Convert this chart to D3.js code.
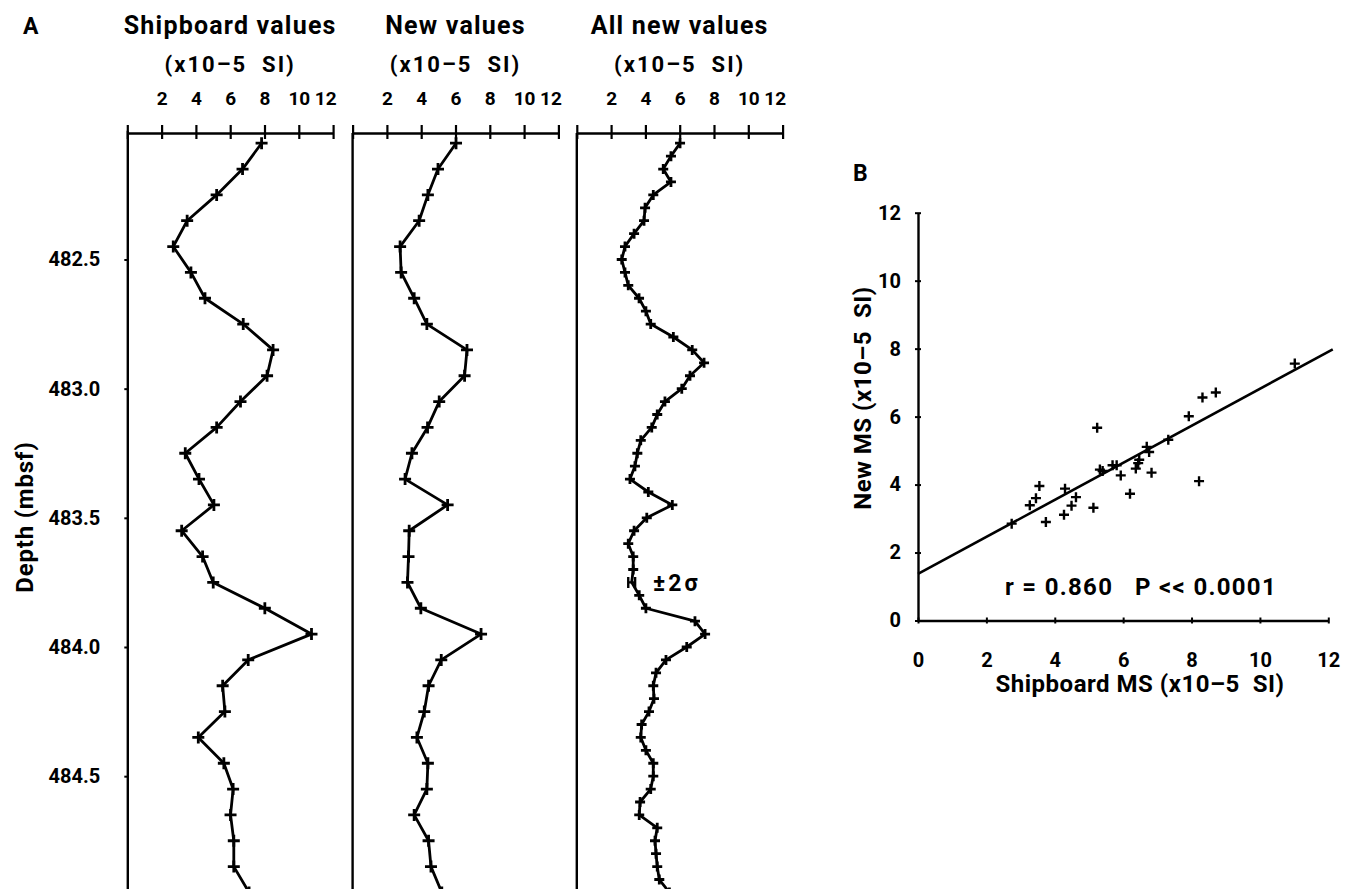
<!DOCTYPE html>
<html>
<head>
<meta charset="utf-8">
<script src="https://cdn.jsdelivr.net/npm/d3@7"></script>
<style>
  body { margin: 0; background: #fff; }
  svg { display: block; }
  text { font-family: Roboto, "DejaVu Sans", sans-serif; font-weight: bold; fill: #000; }
</style>
</head>
<body>
<script>
// Dimensions
var width = 1346,
    height = 889;

// Panel A data: depth (mbsf) and MS values (x10-5 SI)
var shipDepth = [482.05, 482.15, 482.25, 482.35, 482.45, 482.55, 482.65, 482.75, 482.85, 482.95,
                 483.05, 483.15, 483.25, 483.35, 483.45, 483.55, 483.65, 483.75, 483.85, 483.95,
                 484.05, 484.15, 484.25, 484.35, 484.45, 484.55, 484.65, 484.75, 484.85, 484.95];
var shipValues = [7.83, 6.72, 5.21, 3.49, 2.68, 3.71, 4.53, 6.76, 8.50, 8.15,
                  6.60, 5.21, 3.38, 4.18, 5.05, 3.17, 4.39, 5.01, 8.02, 10.74,
                  7.05, 5.56, 5.69, 4.14, 5.63, 6.17, 6.02, 6.21, 6.21, 7.10];
var newValues = [6.03, 4.98, 4.39, 3.88, 2.77, 2.83, 3.59, 4.33, 6.67, 6.53,
                 5.05, 4.37, 3.46, 3.06, 5.54, 3.30, 3.26, 3.20, 3.98, 7.49,
                 5.17, 4.43, 4.18, 3.75, 4.39, 4.33, 3.59, 4.43, 4.57, 5.20];

var allDepth = [482.05, 482.10, 482.15, 482.20, 482.25, 482.30, 482.35, 482.40, 482.45, 482.50,
                482.55, 482.60, 482.65, 482.70, 482.75, 482.80, 482.85, 482.90, 482.95, 483.00,
                483.05, 483.10, 483.15, 483.20, 483.25, 483.30, 483.35, 483.40, 483.45, 483.50,
                483.55, 483.60, 483.65, 483.70, 483.75, 483.80, 483.85, 483.90, 483.95, 484.00,
                484.05, 484.10, 484.15, 484.20, 484.25, 484.30, 484.35, 484.40, 484.45, 484.50,
                484.55, 484.60, 484.65, 484.70, 484.75, 484.80, 484.85, 484.90, 484.95];
var allValues = [6.02, 5.49, 5.04, 5.49, 4.46, 3.98, 3.92, 3.34, 2.81, 2.62,
                 2.81, 3.00, 3.63, 4.03, 4.31, 5.63, 6.73, 7.42, 6.60, 6.12,
                 5.14, 4.69, 4.37, 3.73, 3.53, 3.39, 3.10, 4.17, 5.57, 4.08,
                 3.34, 3.00, 3.29, 3.29, 3.20, 3.64, 4.03, 6.89, 7.48, 6.41,
                 5.20, 4.62, 4.46, 4.50, 4.21, 3.78, 3.73, 4.03, 4.46, 4.46,
                 4.31, 3.69, 3.64, 4.69, 4.56, 4.62, 4.69, 4.81, 5.40];

// error bar (+-2 sigma) drawn on the third panel
var sigmaDepth = 483.75,
    sigmaValue = 3.20,
    sigmaHalf = 0.2;

var panelTitles = ["Shipboard values", "New values", "All new values"];
var unitLabel = "(x10\u20135  SI)";
var msTicks = [0, 2, 4, 6, 8, 10, 12];
var depthTicks = [482.5, 483.0, 483.5, 484.0, 484.5];

// Panel B data: shipboard vs new MS
var scatterShip = [2.74, 3.27, 3.45, 3.55, 3.74, 4.27, 4.30, 4.49, 4.62, 5.13,
                   5.24, 5.32, 5.40, 5.69, 5.81, 5.93, 6.20, 6.37, 6.44, 6.47,
                   6.69, 6.76, 6.83, 7.32, 7.92, 8.22, 8.32, 8.71, 11.02];
var scatterNew  = [2.85, 3.39, 3.60, 3.96, 2.90, 3.11, 3.88, 3.38, 3.63, 3.32,
                   5.67, 4.44, 4.40, 4.57, 4.57, 4.27, 3.73, 4.47, 4.63, 4.73,
                   5.11, 4.96, 4.35, 5.32, 6.01, 4.10, 6.56, 6.71, 7.56];
var fitLine = [[0, 1.37], [12.13, 7.98]];
var scatterTicks = [0, 2, 4, 6, 8, 10, 12];

var svg = d3.select("body")
    .append("svg")
    .attr("width", width)
    .attr("height", height);

svg.append("rect").attr("width", width).attr("height", height).attr("fill", "#fff");

// ---------- Panel A ----------
var axisY = 133;
var panelLeft = [127.3, 352.6, 576.8],
    panelWidth = 205.8;

var y = d3.scaleLinear()
    .domain([482, 485])
    .range([130.3, 905.35]);

var series = [
  {depth: shipDepth, values: shipValues, mark: 6},
  {depth: shipDepth, values: newValues, mark: 6},
  {depth: allDepth, values: allValues, mark: 5}
];

svg.append("text")
    .attr("x", 23).attr("y", 34)
    .attr("font-size", 23)
    .text("A");

series.forEach(function(s, i) {
  var x = d3.scaleLinear().domain([0, 12]).range([panelLeft[i], panelLeft[i] + panelWidth]);
  var cx = panelLeft[i] + panelWidth / 2;

  svg.append("text")
      .attr("x", cx).attr("y", 34)
      .attr("text-anchor", "middle")
      .attr("font-size", 25)
      .attr("letter-spacing", 1.2)
      .text(panelTitles[i]);

  svg.append("text")
      .attr("x", cx).attr("y", 72)
      .attr("text-anchor", "middle")
      .attr("font-size", 22)
      .attr("letter-spacing", 2)
      .style("white-space", "pre")
      .text(unitLabel);

  // top scale
  var gx = svg.append("g")
      .attr("transform", "translate(0," + axisY + ")")
      .call(d3.axisTop(x)
        .tickValues(msTicks)
        .tickSizeInner(8)
        .tickSizeOuter(0)
        .tickPadding(20)
        .tickFormat(function(d) { return d === 0 ? "" : d; }));
  gx.select(".domain").attr("stroke-width", 2.4);
  gx.selectAll(".tick line").attr("y1", 6).attr("stroke-width", 2.2);
  gx.selectAll(".tick text")
      .attr("font-family", "Roboto, sans-serif")
      .attr("font-weight", "bold")
      .attr("font-size", 19)
      .attr("fill", "#000")
      .attr("text-anchor", function(d) { return d === 12 ? "end" : "middle"; })
      .attr("dx", function(d) { return d === 12 ? 3 : 0; });

  // left vertical line (depth axis on first panel)
  if (i === 0) {
    var gy = svg.append("g")
        .attr("transform", "translate(" + panelLeft[i] + ",0)")
        .call(d3.axisLeft(y)
          .tickValues(depthTicks)
          .tickSizeInner(3)
          .tickSizeOuter(0)
          .tickPadding(24)
          .tickFormat(d3.format(".1f")));
    gy.select(".domain").attr("stroke-width", 2.4);
    gy.selectAll(".tick line").attr("stroke-width", 2);
    gy.selectAll(".tick text")
        .attr("font-family", "Roboto, sans-serif")
        .attr("font-weight", "bold")
        .attr("font-size", 20)
        .attr("fill", "#000");
  } else {
    svg.append("line")
        .attr("x1", panelLeft[i]).attr("x2", panelLeft[i])
        .attr("y1", axisY).attr("y2", y(485))
        .attr("stroke", "#000").attr("stroke-width", 2.4);
  }

  var pts = s.depth.map(function(d, k) { return {depth: d, v: s.values[k]}; });

  svg.append("path")
      .datum(pts)
      .attr("fill", "none")
      .attr("stroke", "#000")
      .attr("stroke-width", 2.8)
      .attr("stroke-linejoin", "round")
      .attr("d", d3.line().x(function(d) { return x(d.v); }).y(function(d) { return y(d.depth); }));

  svg.append("g").selectAll("path")
      .data(pts.filter(function(d) { return !(i === 2 && d.depth === sigmaDepth); }))
      .enter().append("path")
      .attr("transform", function(d) { return "translate(" + x(d.v) + "," + y(d.depth) + ")"; })
      .attr("d", "M-" + s.mark + ",0H" + s.mark + "M0,-" + s.mark + "V" + s.mark)
      .attr("stroke", "#000")
      .attr("stroke-width", 2.8);

  if (i === 2) {
    var ex0 = x(sigmaValue - sigmaHalf), ex1 = x(sigmaValue + sigmaHalf), ey = y(sigmaDepth);
    svg.append("path")
        .attr("d", "M" + ex0 + "," + (ey - 5.5) + "V" + (ey + 5.5) +
                   "M" + ex1 + "," + (ey - 5.5) + "V" + (ey + 5.5) +
                   "M" + ex0 + "," + ey + "H" + ex1)
        .attr("stroke", "#000")
        .attr("stroke-width", 2.4)
        .attr("fill", "none");
    svg.append("text")
        .attr("x", 653).attr("y", 591)
        .attr("font-size", 23)
        .attr("letter-spacing", 3)
        .text("\u00b12\u03c3");
  }
});

svg.append("text")
    .attr("transform", "translate(33,517) rotate(-90)")
    .attr("text-anchor", "middle")
    .attr("font-size", 24)
    .attr("letter-spacing", 0.8)
    .text("Depth (mbsf)");

// ---------- Panel B ----------
var sx = d3.scaleLinear().domain([0, 12]).range([918, 1328.3]);
var sy = d3.scaleLinear().domain([0, 12]).range([620.5, 212.7]);

svg.append("text")
    .attr("x", 853).attr("y", 181)
    .attr("font-size", 23)
    .text("B");

var bx = svg.append("g")
    .attr("transform", "translate(0," + sy(0) + ")")
    .call(d3.axisBottom(sx)
      .tickValues(scatterTicks)
      .tickSizeInner(3)
      .tickSizeOuter(0)
      .tickPadding(29));
bx.select(".domain").attr("stroke-width", 2.4);
bx.selectAll(".tick line").attr("y1", -3).attr("stroke-width", 2);
bx.selectAll(".tick text")
    .attr("font-family", "Roboto, sans-serif")
    .attr("font-weight", "bold")
    .attr("font-size", 20)
    .attr("fill", "#000");

var by = svg.append("g")
    .attr("transform", "translate(" + sx(0) + ",0)")
    .call(d3.axisLeft(sy)
      .tickValues(scatterTicks)
      .tickSizeInner(3)
      .tickSizeOuter(0)
      .tickPadding(14));
by.select(".domain").attr("stroke-width", 2.4);
by.selectAll(".tick line").attr("x1", 3).attr("stroke-width", 2);
by.selectAll(".tick text")
    .attr("font-family", "Roboto, sans-serif")
    .attr("font-weight", "bold")
    .attr("font-size", 20)
    .attr("fill", "#000");

svg.append("path")
    .datum(fitLine)
    .attr("fill", "none")
    .attr("stroke", "#000")
    .attr("stroke-width", 2.6)
    .attr("d", d3.line().x(function(d) { return sx(d[0]); }).y(function(d) { return sy(d[1]); }));

svg.append("g").selectAll("path")
    .data(scatterShip)
    .enter().append("path")
    .attr("transform", function(d, k) { return "translate(" + sx(d) + "," + sy(scatterNew[k]) + ")"; })
    .attr("d", "M-5,0H5M0,-5V5")
    .attr("stroke", "#000")
    .attr("stroke-width", 2.4);

svg.append("text")
    .attr("x", 1005).attr("y", 595)
    .attr("font-size", 24)
    .attr("letter-spacing", 1.3)
    .style("white-space", "pre")
    .text("r = 0.860   P << 0.0001");

svg.append("text")
    .attr("x", 1140).attr("y", 692)
    .attr("text-anchor", "middle")
    .attr("font-size", 24)
    .attr("letter-spacing", 0.5)
    .style("white-space", "pre")
    .text("Shipboard MS (x10\u20135  SI)");

svg.append("text")
    .attr("transform", "translate(871,398) rotate(-90)")
    .attr("text-anchor", "middle")
    .attr("font-size", 24)
    .attr("letter-spacing", 0.5)
    .style("white-space", "pre")
    .text("New MS (x10\u20135  SI)");
</script>
</body>
</html>
